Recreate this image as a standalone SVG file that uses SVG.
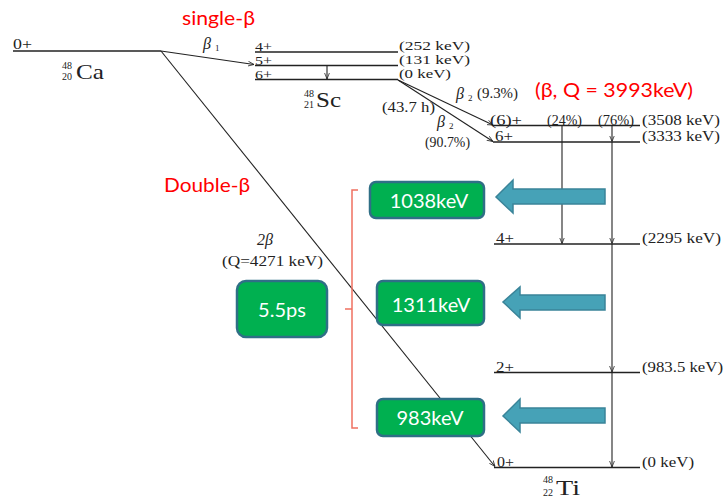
<svg xmlns="http://www.w3.org/2000/svg" width="725" height="499" viewBox="0 0 725 499">
<defs>
<marker id="ah" viewBox="0 0 10 10" refX="10" refY="5" markerWidth="6" markerHeight="6" orient="auto" markerUnits="userSpaceOnUse">
<path d="M0,1 L10,5 L0,9" fill="none" stroke="#222" stroke-width="1.3"/>
</marker>
<style>
.lv{stroke:#222;stroke-width:1.3;fill:none}
.tr{stroke:#222;stroke-width:1.1;fill:none}
.t{font-family:"Liberation Serif",serif;font-size:14px;fill:#222}
.lb{font-family:"Liberation Serif",serif;font-size:15px;fill:#222}
.sc{font-family:"Liberation Serif",serif;font-size:12.5px;fill:#222}
.it{font-family:"Liberation Serif",serif;font-size:16px;font-style:italic;fill:#222}
.sm{font-family:"Liberation Serif",serif;font-size:9px;fill:#222}
.nuc{font-family:"Liberation Serif",serif;font-size:21px;fill:#222}
.iso{font-family:"Liberation Serif",serif;font-size:10px;fill:#222}
.red{font-family:Lato,"Open Sans",sans-serif;font-size:19px;fill:#ff0000}
.box{fill:#00b050;stroke:#2f6f86;stroke-width:2.5}
.bt{font-family:Lato,"Open Sans",sans-serif;font-size:20px;fill:#ffffff;text-anchor:middle}
.arr{fill:#46a2b7;stroke:#3a8499;stroke-width:1.5}
</style>
</defs>

<g id="ca48">
<line class="lv" x1="13" y1="51" x2="161" y2="51"/>
<text class="lb" x="13" y="49" textLength="19" lengthAdjust="spacingAndGlyphs">0+</text>
<text class="iso" x="62" y="69">48</text>
<text class="iso" x="62" y="80">20</text>
<text class="nuc" x="76" y="79" textLength="28" lengthAdjust="spacingAndGlyphs">Ca</text>
</g>

<g id="sc48">
<line class="lv" x1="255" y1="52" x2="398" y2="52"/>
<line class="lv" x1="255" y1="65.5" x2="398" y2="65.5"/>
<line class="lv" x1="255" y1="79.5" x2="398" y2="79.5"/>
<text class="sc" x="255" y="51" textLength="17" lengthAdjust="spacingAndGlyphs">4+</text>
<text class="sc" x="255" y="64.5" textLength="17" lengthAdjust="spacingAndGlyphs">5+</text>
<text class="sc" x="255" y="78.5" textLength="17" lengthAdjust="spacingAndGlyphs">6+</text>
<text class="sc" x="399" y="50" textLength="71" lengthAdjust="spacingAndGlyphs">(252 keV)</text>
<text class="sc" x="399" y="64" textLength="71" lengthAdjust="spacingAndGlyphs">(131 keV)</text>
<text class="sc" x="399" y="78" textLength="52" lengthAdjust="spacingAndGlyphs">(0 keV)</text>
<text class="iso" x="304" y="97">48</text>
<text class="iso" x="304" y="108">21</text>
<text class="nuc" x="316" y="107" textLength="25" lengthAdjust="spacingAndGlyphs">Sc</text>
</g>

<g id="ti48">
<line class="lv" x1="493" y1="125.5" x2="640" y2="125.5"/>
<line class="lv" x1="493" y1="142" x2="640" y2="142"/>
<line class="lv" x1="494" y1="244" x2="640" y2="244"/>
<line class="lv" x1="494" y1="372.5" x2="640" y2="372.5"/>
<line class="lv" x1="494" y1="467.5" x2="640" y2="467.5"/>
<text class="lb" x="490" y="124.5" textLength="32" lengthAdjust="spacingAndGlyphs">(6)+</text>
<text class="lb" x="495" y="141" textLength="18" lengthAdjust="spacingAndGlyphs">6+</text>
<text class="lb" x="496" y="243" textLength="18" lengthAdjust="spacingAndGlyphs">4+</text>
<text class="lb" x="496" y="371.5" textLength="18" lengthAdjust="spacingAndGlyphs">2+</text>
<text class="lb" x="497" y="466.5" textLength="17" lengthAdjust="spacingAndGlyphs">0+</text>
<text class="t" x="547" y="124.5" textLength="35" lengthAdjust="spacingAndGlyphs">(24%)</text>
<text class="t" x="598" y="124.5" textLength="36" lengthAdjust="spacingAndGlyphs">(76%)</text>
<text class="lb" x="642" y="125" textLength="78" lengthAdjust="spacingAndGlyphs">(3508 keV)</text>
<text class="lb" x="642" y="141" textLength="78" lengthAdjust="spacingAndGlyphs">(3333 keV)</text>
<text class="lb" x="642" y="243" textLength="79" lengthAdjust="spacingAndGlyphs">(2295 keV)</text>
<text class="lb" x="642" y="371.5" textLength="81" lengthAdjust="spacingAndGlyphs">(983.5 keV)</text>
<text class="lb" x="642" y="466.5" textLength="52" lengthAdjust="spacingAndGlyphs">(0 keV)</text>
<text class="iso" x="543" y="483">48</text>
<text class="iso" x="543" y="496">22</text>
<text class="nuc" x="556" y="495" textLength="24" lengthAdjust="spacingAndGlyphs">Ti</text>
</g>

<g id="connectors">
<line class="tr" x1="161" y1="51" x2="254" y2="64.5" marker-end="url(#ah)"/>
<line class="tr" x1="161" y1="51" x2="495" y2="466.5" marker-end="url(#ah)"/>
<line class="tr" x1="327" y1="66" x2="327" y2="79" marker-end="url(#ah)"/>
<line class="tr" x1="398" y1="80" x2="493" y2="125" marker-end="url(#ah)"/>
<line class="tr" x1="398" y1="80" x2="493" y2="141.5" marker-end="url(#ah)"/>
<line class="tr" x1="562" y1="126" x2="562" y2="243.5" marker-end="url(#ah)"/>
<line class="tr" x1="612" y1="126" x2="612" y2="141.5" marker-end="url(#ah)"/>
<line class="tr" x1="612" y1="142" x2="612" y2="243.5" marker-end="url(#ah)"/>
<line class="tr" x1="612" y1="244" x2="612" y2="372" marker-end="url(#ah)"/>
<line class="tr" x1="612" y1="373" x2="612" y2="467" marker-end="url(#ah)"/>
</g>

<g id="transition-labels">
<text class="it" x="203" y="49">β</text><text class="sm" x="215" y="51">1</text>
<text class="it" x="456" y="99">β</text><text class="sm" x="468" y="101">2</text>
<text class="t" x="477" y="98" font-size="12" textLength="41" lengthAdjust="spacingAndGlyphs">(9.3%)</text>
<text class="t" x="382" y="112" textLength="53" lengthAdjust="spacingAndGlyphs">(43.7 h)</text>
<text class="it" x="437" y="127">β</text><text class="sm" x="449" y="129">2</text>
<text class="t" x="425" y="147" textLength="45" lengthAdjust="spacingAndGlyphs">(90.7%)</text>
<text class="it" x="257" y="245">2β</text>
<text class="t" x="222" y="266" textLength="101" lengthAdjust="spacingAndGlyphs">(Q=4271 keV)</text>
</g>

<g id="red-labels">
<text class="red" x="182" y="25" textLength="73" lengthAdjust="spacingAndGlyphs">single-β</text>
<text class="red" x="164" y="192" textLength="86" lengthAdjust="spacingAndGlyphs">Double-β</text>
<text class="red" x="535" y="97" textLength="158" lengthAdjust="spacingAndGlyphs">(β, Q = 3993keV)</text>
</g>

<g id="bracket">
<path d="M358,190 L352,190 L352,428 L358,428 M352,309 L345,309" fill="none" stroke="#f07060" stroke-width="1.5"/>
</g>

<g id="box-1038">
<rect class="box" x="370" y="182" width="114" height="36" rx="6"/>
<text class="bt" x="429" y="208">1038keV</text>
</g>
<g id="box-1311">
<rect class="box" x="377" y="281" width="107" height="44" rx="6"/>
<text class="bt" x="431" y="312">1311keV</text>
</g>
<g id="box-983">
<rect class="box" x="377" y="399" width="107" height="37" rx="6"/>
<text class="bt" x="430" y="425">983keV</text>
</g>
<g id="box-5.5ps">
<rect class="box" x="237" y="281" width="90" height="56" rx="9"/>
<text class="bt" x="282" y="317">5.5ps</text>
</g>

<g id="arrow-1">
<polygon class="arr" points="605,189 513,189 513,180 496,197 513,213 513,204 605,204"/>
</g>
<g id="arrow-2">
<polygon class="arr" points="605,295 520,295 520,287 503,302 520,318 520,310 605,310"/>
</g>
<g id="arrow-3">
<polygon class="arr" points="605,408 520,408 520,399 503,416 520,432 520,423 605,423"/>
</g>
</svg>
